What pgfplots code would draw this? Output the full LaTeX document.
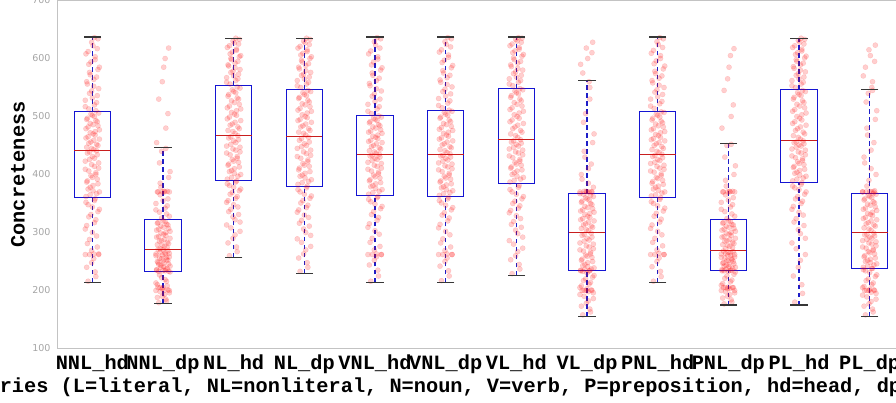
\documentclass[border=0pt]{standalone}
\usepackage{fontspec}
\usepackage{pgfplots}
\usepackage{pgfplotstable}
\pgfplotsset{compat=1.18}
\usepgfplotslibrary{statistics}
\newfontfamily\monofont{Liberation Mono}
\newfontfamily\tickfont{DejaVu Sans}
\definecolor{axgray}{RGB}{195,195,195}
\definecolor{tickgray}{RGB}{165,165,165}
\definecolor{boxblue}{RGB}{20,20,210}
\definecolor{whiskblue}{RGB}{30,30,200}
\definecolor{capblack}{RGB}{55,55,55}
\definecolor{medred}{RGB}{200,30,30}

\pgfplotstableread{
dx b1 b2 b3 b4 b5 b6 b7 b8 b9 b10 b11 b12
-0.06 216 179 260 233 216 217 229 158 216 177 180 158
0.04 232 185 275 248 235 234 245 168 233 184 210 168
-0.01 248 190 290 263 252 250 260 178 250 190 240 177
0.09 262 196 302 276 262 262 273 186 262 196 262 185
-0.10 262 200 313 289 262 262 286 193 262 200 282 192
0.02 263 200 322 300 263 263 298 198 264 203 298 197
0.07 275 201 331 311 276 275 309 200 277 205 312 200
-0.04 288 205 340 321 290 289 319 200 290 205 324 200
0.00 300 205 348 330 303 302 329 203 302 206 335 202
-0.08 312 210 355 339 315 314 338 208 313 212 345 207
0.05 322 216 362 347 326 325 346 214 323 218 354 213
-0.02 331 222 369 355 336 334 354 220 333 225 362 220
0.10 340 232 375 363 345 343 362 226 342 232 370 227
-0.06 348 233 381 370 353 351 370 233 350 234 377 234
0.03 355 234 387 377 360 358 378 234 357 235 383 238
-0.09 362 236 392 383 366 364 387 235 363 236 389 240
0.06 367 238 397 388 371 369 392 237 368 238 394 244
0.01 372 241 402 394 376 374 397 241 373 241 399 248
-0.03 378 243 407 399 381 379 403 245 378 243 404 252
0.08 384 246 413 405 386 384 408 250 383 246 409 256
-0.07 389 248 418 411 391 389 413 254 388 248 414 260
0.00 395 251 423 416 396 394 418 259 393 251 419 265
0.05 400 253 428 422 401 399 423 263 398 253 424 269
-0.05 406 256 434 428 406 405 429 268 404 256 429 273
0.09 411 258 439 433 411 410 434 272 409 258 434 277
-0.01 417 261 444 439 416 415 439 277 414 261 439 282
-0.10 423 263 449 445 421 420 444 282 419 263 444 286
0.03 428 265 455 450 426 425 449 287 424 265 449 290
0.07 434 268 460 456 430 430 454 292 429 267 453 294
-0.04 439 272 465 462 433 433 458 297 433 272 456 297
0.02 443 276 471 468 437 438 464 303 438 276 461 304
-0.08 447 279 476 473 441 443 470 307 443 279 467 308
0.06 452 283 482 479 446 448 476 311 448 283 473 313
-0.02 456 286 487 484 450 453 482 315 453 286 479 317
0.10 461 290 493 490 455 458 488 320 458 290 485 322
-0.06 465 293 499 495 459 463 494 324 462 293 491 326
0.01 470 297 504 500 464 468 500 328 467 297 497 331
0.04 474 300 510 506 468 473 506 333 472 300 503 335
-0.09 479 304 515 511 473 478 512 337 477 304 509 340
0.08 484 307 521 517 477 483 518 341 482 307 515 344
-0.03 488 311 527 522 482 488 524 345 487 311 521 349
0.05 493 314 532 528 486 494 530 350 492 314 527 353
-0.07 497 317 538 533 491 499 536 354 497 317 533 358
0.00 502 320 543 538 495 504 541 358 502 320 538 362
0.09 506 328 549 543 499 509 546 362 507 328 543 366
-0.05 513 335 556 550 505 515 553 366 514 336 550 370
0.03 520 342 562 556 513 523 559 370 522 344 556 370
-0.10 528 350 567 562 521 531 565 370 530 352 562 370
0.07 536 358 573 568 530 539 571 370 538 360 568 372
-0.01 544 370 578 573 539 547 577 371 546 370 574 390
0.02 552 370 584 579 548 555 583 385 554 370 580 410
-0.08 560 370 589 585 557 563 589 400 562 370 586 430
0.06 568 371 595 591 566 571 595 418 570 371 592 455
-0.04 576 385 600 597 575 579 601 440 578 390 598 480
0.10 585 405 605 603 584 588 607 470 587 415 604 510
-0.02 594 440 611 609 594 597 613 505 596 450 610 540
0.04 603 480 616 615 603 606 619 550 605 500 616 560
-0.06 612 530 622 621 613 615 625 575 614 545 622 585
0.01 622 585 627 627 623 624 630 600 624 585 628 605
0.08 634 618 633 633 634 634 635 628 634 617 633 623
}\ptsA

\pgfplotstableread{
dx b1 b2 b3 b4 b5 b6 b7 b8 b9 b10 b11 b12
0.05 224 182 267 240 225 225 237 163 224 180 195 163
-0.08 240 188 282 256 244 242 253 173 241 187 225 173
0.02 255 193 296 270 258 256 267 182 256 193 252 181
-0.04 262 198 308 283 262 262 280 190 262 198 272 189
0.09 263 200 318 295 262 262 292 196 262 200 290 195
-0.01 269 203 327 306 270 269 304 200 270 203 305 200
-0.07 281 205 336 316 283 282 314 200 283 205 318 200
0.06 294 208 344 326 297 296 324 201 296 205 330 201
-0.10 306 213 352 335 309 308 334 205 307 209 340 205
0.03 317 219 359 343 321 320 342 211 318 215 350 210
-0.05 327 227 366 351 331 330 350 217 328 221 358 217
0.08 336 233 372 359 341 339 358 223 337 228 366 224
0.00 344 234 378 366 349 347 366 230 346 233 374 231
-0.09 352 235 384 374 357 355 374 234 353 234 380 236
0.04 358 237 389 380 362 361 381 234 360 235 386 238
-0.03 365 240 395 386 369 367 390 236 365 237 392 242
0.10 370 242 400 391 374 372 395 239 370 240 397 246
-0.06 375 245 405 397 379 377 400 243 375 242 402 250
0.01 381 247 410 402 384 382 406 248 380 245 407 254
-0.08 387 250 416 408 389 387 411 252 385 247 412 258
0.07 392 252 421 414 394 392 416 257 390 250 417 263
-0.02 398 255 426 419 399 397 421 261 395 252 422 267
0.05 403 257 431 425 404 402 426 266 401 255 427 271
-0.10 409 260 437 431 409 408 432 270 406 257 432 275
0.03 414 262 442 436 414 413 437 275 411 260 437 280
0.09 420 264 447 442 419 418 442 280 416 262 442 284
-0.04 426 266 452 448 424 423 447 285 421 264 447 288
0.00 431 270 458 453 428 428 452 290 426 266 451 292
-0.07 437 271 463 459 432 432 456 295 431 268 455 296
0.06 441 274 467 464 435 436 460 299 435 274 458 299
-0.01 445 278 474 471 439 441 467 305 440 278 464 306
0.08 450 281 479 476 444 446 473 309 445 281 470 311
-0.05 454 285 485 482 448 451 479 313 450 285 476 315
0.02 459 288 490 487 453 456 485 318 455 288 482 320
-0.09 463 292 496 493 457 461 491 322 460 292 488 324
0.04 468 295 502 498 462 466 497 326 464 295 494 329
-0.03 472 299 507 503 466 471 503 331 469 299 500 333
0.10 477 302 513 509 471 476 509 335 474 302 506 338
-0.06 482 306 518 514 475 481 515 339 479 306 512 342
0.01 486 309 524 520 480 486 521 343 484 309 518 347
0.07 491 313 530 525 484 491 527 348 489 313 524 351
-0.08 495 316 535 531 489 497 533 352 494 316 530 356
0.03 500 319 541 536 493 502 539 356 499 319 536 360
-0.02 504 325 546 541 497 507 544 360 504 324 541 364
0.05 510 332 551 545 501 511 548 364 508 332 545 367
-0.10 517 339 559 553 509 519 556 367 518 340 553 370
0.06 524 346 565 559 517 527 562 370 526 348 559 370
0.00 532 355 570 565 526 535 568 370 534 356 565 371
-0.04 540 365 576 571 535 543 574 371 542 365 571 380
0.09 548 370 581 576 544 551 580 378 550 370 577 400
-0.07 556 370 587 582 553 559 586 392 558 370 583 420
0.02 564 371 592 588 562 567 592 410 566 371 589 442
-0.03 572 378 598 594 571 575 598 430 574 380 595 468
0.08 581 395 603 600 580 584 604 455 582 400 601 495
-0.05 590 420 608 606 589 593 610 490 591 430 607 525
0.04 598 445 614 612 599 602 616 530 600 452 613 545
-0.09 608 455 619 618 608 611 622 590 609 480 619 570
0.07 617 505 625 624 618 620 628 610 619 520 625 595
-0.01 628 560 630 630 629 629 633 618 629 565 631 615
0.03 636 600 635 635 636 636 636 560 636 605 635 550
}\ptsB

\pgfplotsset{
  pts/.style={only marks, mark=*, mark size=2.6pt,
    mark options={draw=red, fill=red, fill opacity=0.19, draw opacity=0.17, line width=0.3pt}},
}

\begin{document}
\begin{tikzpicture}
\useasboundingbox (-57pt,-53.5pt) rectangle (839pt,348.5pt);
\begin{axis}[
  at={(0pt,0pt)}, anchor=south west,
  scale only axis, width=848pt, height=348pt,
  xmin=0.5, xmax=12.5, ymin=100, ymax=700,
  axis line style={draw=axgray, line width=0.8pt},
  xtick={1,2,3,4,5,6,7,8,9,10,11,12},
  xticklabels={NNL\_hd,NNL\_dp,NL\_hd,NL\_dp,VNL\_hd,VNL\_dp,VL\_hd,VL\_dp,PNL\_hd,PNL\_dp,PL\_hd,PL\_dp},
  ytick={100,200,300,400,500,600,700},
  major tick length=0pt,
  unbounded coords=jump,
  /pgf/number format/assume math mode=true,
  yticklabel style={font=\tickfont\fontsize{9.5}{10}\selectfont, text=tickgray, xshift=-3pt},
  xticklabel style={font=\monofont\bfseries\fontsize{20.3}{20}\selectfont, anchor=base, yshift=-21pt},
  ylabel={Concreteness},
  ylabel style={font=\monofont\bfseries\fontsize{20.3}{20}\selectfont, at={(axis description cs:-0.046,0.5)}, anchor=center},
  xlabel={Categories (L=literal, NL=nonliteral, N=noun, V=verb, P=preposition, hd=head, dp=dependent)},
  xlabel style={font=\monofont\bfseries\fontsize{20.3}{20}\selectfont, at={(axis description cs:0.5,-0.1264)}, anchor=base},
  boxplot/draw direction=y,
  boxplot/box extend=0.51,
  boxplot/whisker extend=0,
  boxplot/every box/.style={draw=boxblue, line width=1pt},
  boxplot/every median/.style={draw=medred, line width=1pt},
  boxplot/every whisker/.style={draw=none},
]
\addplot[boxplot prepared={draw position=1, lower whisker=214, lower quartile=360, median=441, upper quartile=508, upper whisker=637}] coordinates {};
\addplot[boxplot prepared={draw position=2, lower whisker=177, lower quartile=233, median=270, upper quartile=322, upper whisker=447}] coordinates {};
\addplot[boxplot prepared={draw position=3, lower whisker=257, lower quartile=390, median=468, upper quartile=553, upper whisker=635}] coordinates {};
\addplot[boxplot prepared={draw position=4, lower whisker=230, lower quartile=380, median=465, upper quartile=546, upper whisker=635}] coordinates {};
\addplot[boxplot prepared={draw position=5, lower whisker=214, lower quartile=364, median=435, upper quartile=501, upper whisker=637}] coordinates {};
\addplot[boxplot prepared={draw position=6, lower whisker=214, lower quartile=362, median=435, upper quartile=511, upper whisker=637}] coordinates {};
\addplot[boxplot prepared={draw position=7, lower whisker=226, lower quartile=384, median=461, upper quartile=549, upper whisker=637}] coordinates {};
\addplot[boxplot prepared={draw position=8, lower whisker=155, lower quartile=234, median=300, upper quartile=367, upper whisker=562}] coordinates {};
\addplot[boxplot prepared={draw position=9, lower whisker=214, lower quartile=361, median=435, upper quartile=509, upper whisker=637}] coordinates {};
\addplot[boxplot prepared={draw position=10, lower whisker=175, lower quartile=234, median=269, upper quartile=322, upper whisker=454}] coordinates {};
\addplot[boxplot prepared={draw position=11, lower whisker=175, lower quartile=386, median=458, upper quartile=546, upper whisker=635}] coordinates {};
\addplot[boxplot prepared={draw position=12, lower whisker=155, lower quartile=238, median=300, upper quartile=367, upper whisker=546}] coordinates {};
\addplot[pts] table[x expr=\thisrow{dx}+1, y=b1] {\ptsA};
\addplot[pts] table[x expr=\thisrow{dx}+2, y=b2] {\ptsA};
\addplot[pts] table[x expr=\thisrow{dx}+3, y=b3] {\ptsA};
\addplot[pts] table[x expr=\thisrow{dx}+4, y=b4] {\ptsA};
\addplot[pts] table[x expr=\thisrow{dx}+5, y=b5] {\ptsA};
\addplot[pts] table[x expr=\thisrow{dx}+6, y=b6] {\ptsA};
\addplot[pts] table[x expr=\thisrow{dx}+7, y=b7] {\ptsA};
\addplot[pts] table[x expr=\thisrow{dx}+8, y=b8] {\ptsA};
\addplot[pts] table[x expr=\thisrow{dx}+9, y=b9] {\ptsA};
\addplot[pts] table[x expr=\thisrow{dx}+10, y=b10] {\ptsA};
\addplot[pts] table[x expr=\thisrow{dx}+11, y=b11] {\ptsA};
\addplot[pts] table[x expr=\thisrow{dx}+12, y=b12] {\ptsA};
\addplot[pts] table[x expr=\thisrow{dx}+1, y=b1] {\ptsB};
\addplot[pts] table[x expr=\thisrow{dx}+2, y=b2] {\ptsB};
\addplot[pts] table[x expr=\thisrow{dx}+3, y=b3] {\ptsB};
\addplot[pts] table[x expr=\thisrow{dx}+4, y=b4] {\ptsB};
\addplot[pts] table[x expr=\thisrow{dx}+5, y=b5] {\ptsB};
\addplot[pts] table[x expr=\thisrow{dx}+6, y=b6] {\ptsB};
\addplot[pts] table[x expr=\thisrow{dx}+7, y=b7] {\ptsB};
\addplot[pts] table[x expr=\thisrow{dx}+8, y=b8] {\ptsB};
\addplot[pts] table[x expr=\thisrow{dx}+9, y=b9] {\ptsB};
\addplot[pts] table[x expr=\thisrow{dx}+10, y=b10] {\ptsB};
\addplot[pts] table[x expr=\thisrow{dx}+11, y=b11] {\ptsB};
\addplot[pts] table[x expr=\thisrow{dx}+12, y=b12] {\ptsB};
% whiskers, drawn over the points
\addplot[draw=whiskblue, line width=1.1pt, dash pattern=on 4.5pt off 3.5pt, mark=none] coordinates {
(1,214) (1,360) (1,nan) (1,508) (1,637) (1,nan)
(2,177) (2,233) (2,nan) (2,322) (2,447) (2,nan)
(3,257) (3,390) (3,nan) (3,553) (3,635) (3,nan)
(4,230) (4,380) (4,nan) (4,546) (4,635) (4,nan)
(5,214) (5,364) (5,nan) (5,501) (5,637) (5,nan)
(6,214) (6,362) (6,nan) (6,511) (6,637) (6,nan)
(7,226) (7,384) (7,nan) (7,549) (7,637) (7,nan)
(8,155) (8,234) (8,nan) (8,367) (8,562) (8,nan)
(9,214) (9,361) (9,nan) (9,509) (9,637) (9,nan)
(10,175) (10,234) (10,nan) (10,322) (10,454) (10,nan)
(11,175) (11,386) (11,nan) (11,546) (11,635) (11,nan)
(12,155) (12,238) (12,nan) (12,367) (12,546)};
% whisker caps
\addplot[only marks, mark=-, mark size=8.8pt, mark options={draw=capblack, line width=1.2pt}] coordinates {
(1,214) (1,637) (2,177) (2,447) (3,257) (3,635) (4,230) (4,635) (5,214) (5,637) (6,214) (6,637)
(7,226) (7,637) (8,155) (8,562) (9,214) (9,637) (10,175) (10,454) (11,175) (11,635) (12,155) (12,546)};
\end{axis}
\end{tikzpicture}
\end{document}
